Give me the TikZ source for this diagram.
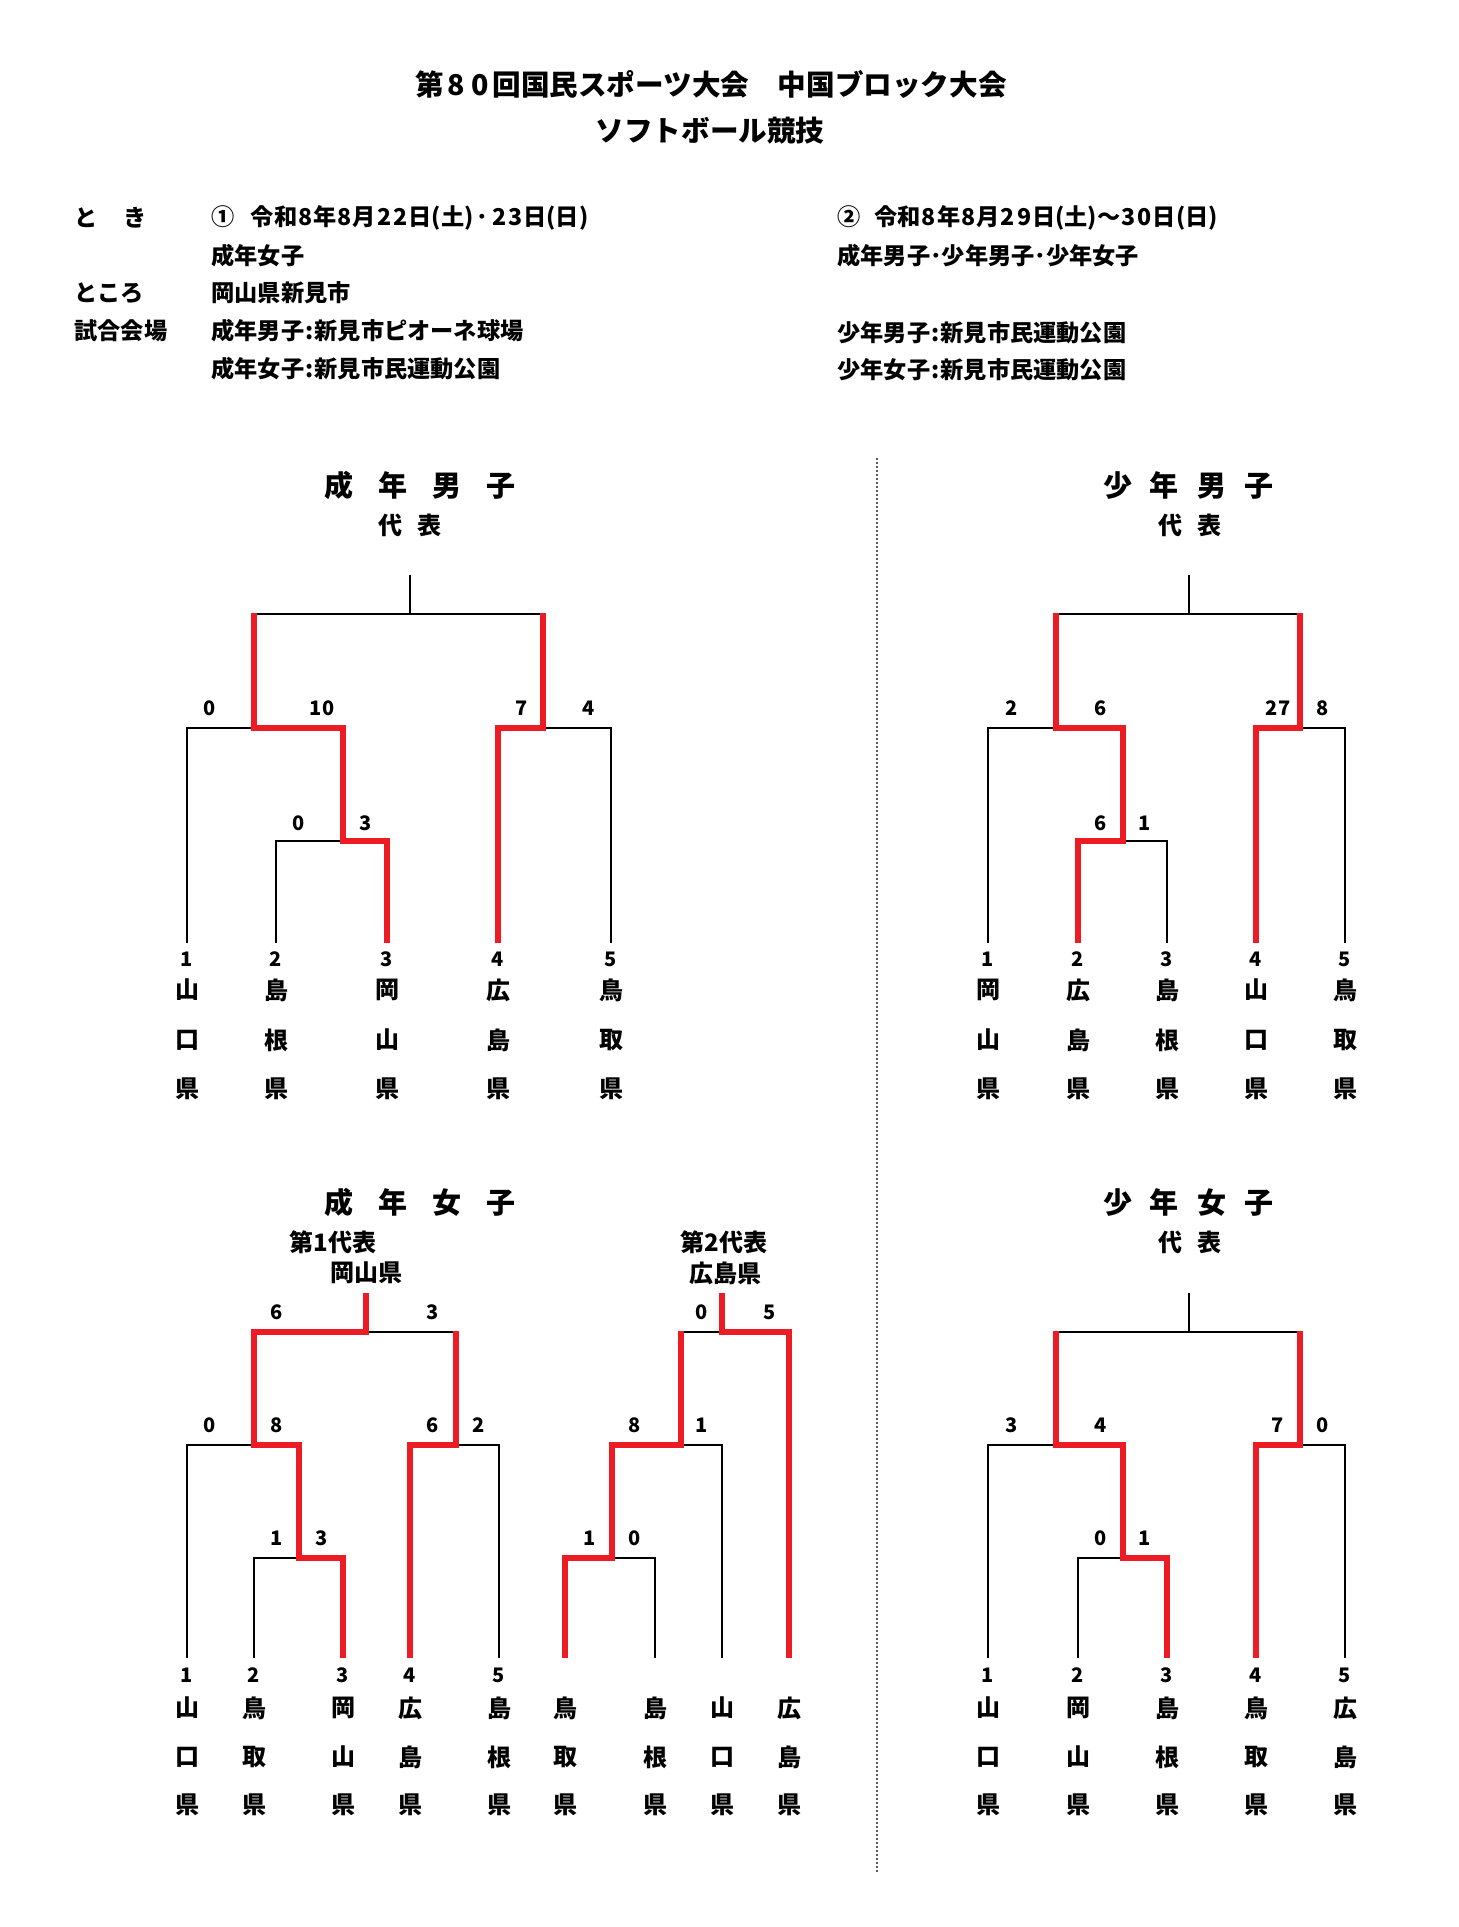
\documentclass[tikz,border=0pt]{standalone}
\usepackage{fontspec}
\setmainfont{Noto Sans CJK JP}
\definecolor{wred}{RGB}{237,28,36}
\tikzset{
  blk/.style={draw=black, line width=1.1pt},
  win/.style={draw=wred, line width=3.2pt, line join=miter},
  tx/.style={inner sep=0pt, font=\bfseries\fontsize{11.6pt}{14pt}\selectfont},
  info/.style={tx, anchor=west},
  head/.style={inner sep=0pt, font=\bfseries\fontsize{14.3pt}{17pt}\selectfont},
  ttl/.style={inner sep=0pt, font=\bfseries\fontsize{14.5pt}{17pt}\selectfont},
  rep/.style={inner sep=0pt, font=\bfseries\fontsize{12pt}{14pt}\selectfont},
  num/.style={inner sep=0pt, font=\bfseries\fontsize{10pt}{12pt}\selectfont},
  sc/.style={num},
  pref/.style={inner sep=0pt, font=\bfseries\fontsize{12pt}{14pt}\selectfont},
  sepline/.style={draw=black!65, line width=1pt, dash pattern=on 1pt off 1pt},
}
\newcommand\dg[1]{\makebox[0.7em]{#1}}
\newcommand\hd[1]{\makebox[0.85em]{#1}}
\newcommand\cln{\makebox[0.45em]{:}}
\newcommand\tmcol[6]{%
  \coordinate (#1) at (#2,\yL);
  \node[num] (#1n) at (#2,\yN) {#3};
  \node[pref] (#1a) at (#2,\yA) {#4};
  \node[pref] (#1b) at (#2,\yB) {#5};
  \node[pref] (#1c) at (#2,\yC) {#6};}
\newcommand\tmcolx[5]{%
  \coordinate (#1) at (#2,\yL);
  \node[pref] (#1a) at (#2,\yA) {#3};
  \node[pref] (#1b) at (#2,\yB) {#4};
  \node[pref] (#1c) at (#2,\yC) {#5};}
\begin{document}
\begin{tikzpicture}[x=0.5pt,y=-0.5pt]
\useasboundingbox (0,0) rectangle (1458,1927);
\fill[white] (0,0) rectangle (1458,1927);

% header
\node[head] (h1) at (711,84) {第\hd{8}\hd{0}回国民スポーツ大会　中国ブロック大会};
\node[head] (h2) at (710,131) {ソフトボール競技};

\node[info] (l1) at (74,218) {と\hspace{1.1em}き};
\node[info] (l2) at (74,293) {ところ};
\node[info] (l3) at (74,331) {試合会場};
\node[info] (v1) at (211,218) {①\hspace{0.7em}令和\dg{8}年\dg{8}月\dg{2}\dg{2}日(土)\makebox[0.75em]{･}\dg{2}\dg{3}日(日)};
\node[info] (v2) at (211,256) {成年女子};
\node[info] (v3) at (211,293) {岡山県新見市};
\node[info] (v4) at (211,331) {成年男子\cln 新見市ピオーネ球場};
\node[info] (v5) at (211,369) {成年女子\cln 新見市民運動公園};
\node[info] (w1) at (837,218) {②\hspace{0.6em}令和\dg{8}年\dg{8}月\dg{2}\dg{9}日(土)～\dg{3}\dg{0}日(日)};
\node[info] (w2) at (837,256) {成年男子･少年男子･少年女子};
\node[info] (w3) at (837,333) {少年男子\cln 新見市民運動公園};
\node[info] (w4) at (837,370) {少年女子\cln 新見市民運動公園};

% divider
\coordinate (dtop) at (877,458);
\coordinate (dbot) at (877,1872);
\draw[sepline] (dtop) -- (dbot);

% ================= top section
\def\yL{943}\def\yN{959}\def\yA{990}\def\yB{1040}\def\yC{1089}

% --- 成年男子
\node[ttl] (t1) at (420,485) {成\hspace{12.5pt}年\hspace{12.5pt}男\hspace{12.5pt}子};
\node[rep] (r1) at (410,525) {代\hspace{7.5pt}表};
\tmcol{a1}{187}{1}{山}{口}{県}
\tmcol{a2}{276}{2}{島}{根}{県}
\tmcol{a3}{387}{3}{岡}{山}{県}
\tmcol{a4}{498}{4}{広}{島}{県}
\tmcol{a5}{611}{5}{鳥}{取}{県}
\coordinate (a0) at (410,575);
\draw[blk] (a0) -- (410,614);
\draw[blk] (254,614) -- (543,614);
\draw[blk] (a1) |- (254,728);
\draw[blk] (a2) |- (343,841);
\draw[blk] (543,728) -| (a5);
\draw[win] (a3) |- (343,841) |- (254,728) -- (254,613);
\draw[win] (a4) |- (543,728) -- (543,613);
\node[sc] (sa1) at (210,708) {0};
\node[sc] (sa2) at (322,708) {10};
\node[sc] (sa3) at (522,708) {7};
\node[sc] (sa4) at (589,708) {4};
\node[sc] (sa5) at (299,823) {0};
\node[sc] (sa6) at (366,823) {3};

% --- 少年男子
\node[ttl] (t2) at (1188,485) {少\hspace{9pt}年\hspace{9pt}男\hspace{9pt}子};
\node[rep] (r2) at (1190,525) {代\hspace{7.5pt}表};
\tmcol{b1}{988}{1}{岡}{山}{県}
\tmcol{b2}{1078}{2}{広}{島}{県}
\tmcol{b3}{1167}{3}{島}{根}{県}
\tmcol{b4}{1256}{4}{山}{口}{県}
\tmcol{b5}{1345}{5}{鳥}{取}{県}
\coordinate (b0) at (1189,575);
\draw[blk] (b0) -- (1189,614);
\draw[blk] (1056,614) -- (1300,614);
\draw[blk] (b1) |- (1056,728);
\draw[blk] (b3) |- (1123,841);
\draw[blk] (1300,728) -| (b5);
\draw[win] (b2) |- (1123,841) |- (1056,728) -- (1056,613);
\draw[win] (b4) |- (1300,728) -- (1300,613);
\node[sc] (sb1) at (1012,708) {2};
\node[sc] (sb2) at (1101,708) {6};
\node[sc] (sb3) at (1278,708) {27};
\node[sc] (sb4) at (1323,708) {8};
\node[sc] (sb5) at (1101,823) {6};
\node[sc] (sb6) at (1145,823) {1};

% ================= bottom section
\def\yL{1658}\def\yN{1675}\def\yA{1708}\def\yB{1757}\def\yC{1805}

% --- 成年女子
\node[ttl] (t3) at (420,1202) {成\hspace{12.5pt}年\hspace{12.5pt}女\hspace{12.5pt}子};
\node[rep] (r3a) at (333,1242) {第1代表};
\node[rep] (r3b) at (366,1273) {岡山県};
\node[rep] (r3c) at (724,1242) {第2代表};
\node[rep] (r3d) at (725,1273) {広島県};
\tmcol{c1}{187}{1}{山}{口}{県}
\tmcol{c2}{254}{2}{鳥}{取}{県}
\tmcol{c3}{343}{3}{岡}{山}{県}
\tmcol{c4}{410}{4}{広}{島}{県}
\tmcol{c5}{499}{5}{島}{根}{県}
\tmcolx{d1}{565}{鳥}{取}{県}
\tmcolx{d2}{655}{島}{根}{県}
\tmcolx{d3}{722}{山}{口}{県}
\tmcolx{d4}{789}{広}{島}{県}
\coordinate (c0) at (366,1293);
\coordinate (d0) at (722,1293);
\draw[blk] (254,1332) -- (456,1332);
\draw[blk] (c1) |- (254,1445);
\draw[blk] (c2) |- (299,1558);
\draw[blk] (456,1445) -| (c5);
\draw[win] (c3) |- (299,1558) |- (254,1445) |- (366,1332) -- (c0);
\draw[win] (c4) |- (456,1445) -- (456,1331);
\draw[blk] (681,1332) -- (722,1332);
\draw[blk] (681,1445) -| (d3);
\draw[blk] (612,1558) -| (d2);
\draw[win] (d1) |- (612,1558) |- (681,1445) -- (681,1331);
\draw[win] (d4) |- (722,1332) -- (d0);
\node[sc] (sc1) at (277,1312) {6};
\node[sc] (sc2) at (433,1312) {3};
\node[sc] (sc3) at (210,1425) {0};
\node[sc] (sc4) at (277,1425) {8};
\node[sc] (sc5) at (433,1425) {6};
\node[sc] (sc6) at (479,1425) {2};
\node[sc] (sc7) at (277,1538) {1};
\node[sc] (sc8) at (322,1538) {3};
\node[sc] (sd1) at (702,1312) {0};
\node[sc] (sd2) at (770,1312) {5};
\node[sc] (sd3) at (635,1425) {8};
\node[sc] (sd4) at (702,1425) {1};
\node[sc] (sd5) at (590,1538) {1};
\node[sc] (sd6) at (635,1538) {0};

% --- 少年女子
\node[ttl] (t4) at (1188,1202) {少\hspace{9pt}年\hspace{9pt}女\hspace{9pt}子};
\node[rep] (r4) at (1190,1242) {代\hspace{7.5pt}表};
\tmcol{e1}{988}{1}{山}{口}{県}
\tmcol{e2}{1078}{2}{岡}{山}{県}
\tmcol{e3}{1167}{3}{島}{根}{県}
\tmcol{e4}{1256}{4}{鳥}{取}{県}
\tmcol{e5}{1345}{5}{広}{島}{県}
\coordinate (e0) at (1189,1293);
\draw[blk] (e0) -- (1189,1332);
\draw[blk] (1056,1332) -- (1300,1332);
\draw[blk] (e1) |- (1056,1445);
\draw[blk] (e2) |- (1123,1558);
\draw[blk] (1300,1445) -| (e5);
\draw[win] (e3) |- (1123,1558) |- (1056,1445) -- (1056,1331);
\draw[win] (e4) |- (1300,1445) -- (1300,1331);
\node[sc] (se1) at (1012,1425) {3};
\node[sc] (se2) at (1101,1425) {4};
\node[sc] (se3) at (1278,1425) {7};
\node[sc] (se4) at (1323,1425) {0};
\node[sc] (se5) at (1101,1538) {0};
\node[sc] (se6) at (1145,1538) {1};
\end{tikzpicture}
\end{document}
